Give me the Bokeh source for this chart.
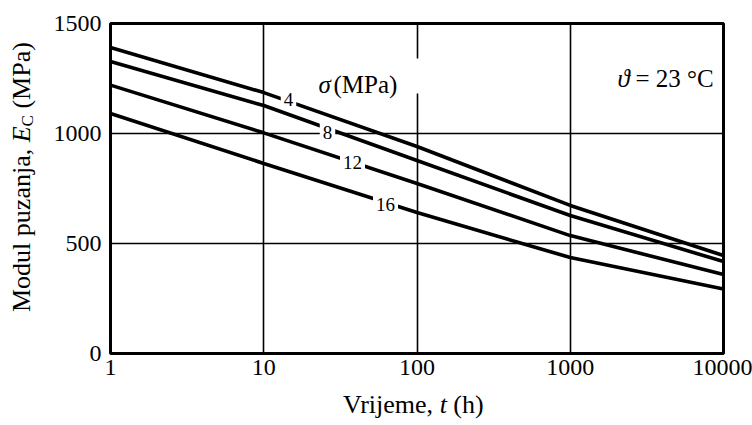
import math
from bokeh.plotting import figure
from bokeh.models import Label, FixedTicker, BoxAnnotation, Div
from bokeh.layouts import row, column
from bokeh.embed import file_html
from bokeh.resources import INLINE

# ---- data ----
t_hours = [1, 10, 100, 1000, 10000]
E_sigma4 = [1391, 1186, 941, 673, 445]
E_sigma8 = [1327, 1127, 877, 627, 418]
E_sigma12 = [1220, 1003, 773, 536, 359]
E_sigma16 = [1091, 864, 641, 436, 293]
stress_labels = ["4", "8", "12", "16"]
x_ticks = [1, 10, 100, 1000, 10000]
x_tick_labels = ["1", "10", "100", "1000", "10000"]
y_ticks = [0, 500, 1000, 1500]
y_tick_labels = ["0", "500", "1000", "1500"]

FONT = "Liberation Serif"
YLAB_W = 40            # width of the y-label strip
XLAB_H = 35            # height of the x-label strip
W, H = 752 - YLAB_W, 425 - XLAB_H
# frame in page pixels
FL, FR, FT, FB = 110, 723, 23, 353
L, R, T, B = FL - YLAB_W, (W + YLAB_W) - FR, FT, H - FB

p = figure(width=W, height=H, x_axis_type="log", x_range=(1, 10000), y_range=(0, 1500),
           output_backend="svg", toolbar_location=None,
           min_border_left=L, min_border_right=R, min_border_top=T, min_border_bottom=B,
           background_fill_color="white", border_fill_color="white")

dec = (FR - FL) / 4.0
ppu = (FB - FT) / 1500.0

def dx(px):
    return 10 ** ((px - FL) / dec)

def dy(py):
    return (FB - py) / ppu

p.outline_line_color = "black"
p.outline_line_width = 3
p.outline_line_alpha = 1

for ax in (p.xaxis[0], p.yaxis[0]):
    ax.axis_line_color = None
    ax.major_tick_line_color = None
    ax.minor_tick_line_color = None
    ax.major_tick_out = 0
    ax.major_tick_in = 0
    ax.minor_tick_out = 0
    ax.major_label_text_font = FONT
    ax.major_label_text_font_size = "24px"
    ax.major_label_text_color = "black"
p.xaxis[0].major_label_standoff = 6
p.yaxis[0].major_label_standoff = 9

p.xaxis[0].ticker = FixedTicker(ticks=x_ticks)
p.xaxis[0].major_label_overrides = {t: s for t, s in zip(x_ticks, x_tick_labels)}
p.yaxis[0].ticker = FixedTicker(ticks=y_ticks)
p.yaxis[0].major_label_overrides = {t: s for t, s in zip(y_ticks, y_tick_labels)}

p.xgrid[0].ticker = FixedTicker(ticks=x_ticks)
p.ygrid[0].ticker = FixedTicker(ticks=y_ticks)
for g in (p.xgrid[0], p.ygrid[0]):
    g.grid_line_color = "black"
    g.grid_line_width = 1.6
    g.grid_line_alpha = 1

# gap in the t=100 gridline near the sigma label
p.add_layout(BoxAnnotation(left=dx(406), right=dx(422), bottom=dy(93), top=dy(58),
                           fill_color="white", fill_alpha=1, line_color=None))

for E in (E_sigma4, E_sigma8, E_sigma12, E_sigma16):
    p.line(t_hours, E, line_color="black", line_width=3.6)

# curve labels
label_pos = [(288, 99), (327, 132), (352, 162), (385, 204)]
for s, (px, py) in zip(stress_labels, label_pos):
    p.add_layout(Label(x=dx(px), y=dy(py), text=s, text_font=FONT, text_font_size="19px",
                       text_color="black", text_align="center", text_baseline="middle",
                       background_fill_color="white", background_fill_alpha=1, padding=3))

def txt(px, py, text, size="24px", style="normal", align="left"):
    p.add_layout(Label(x=dx(px), y=dy(py), text=text, text_font=FONT, text_font_size=size,
                       text_font_style=style, text_align=align, text_baseline="alphabetic",
                       text_color="black"))

# sigma (MPa)
txt(318, 84, "σ", size="25px", style="italic")
txt(333, 84, "(MPa)", size="25px")
# theta = 23 C
txt(617, 78, "ϑ", size="25px", style="italic")
txt(635, 78, "= 23 °C", size="25px")

base_css = ("font-family:'Liberation Serif',serif;font-size:26px;color:black;"
            "white-space:nowrap;")

xlab = Div(width=W, height=XLAB_H, margin=0,
           text=('<div style="%sline-height:30px;padding-left:%dpx;">'
                 'Vrijeme, <i>t</i> (h)</div>') % (base_css, 343 - YLAB_W))

ylab = Div(width=YLAB_W, height=H + XLAB_H, margin=0,
           text=('<div style="%sline-height:30px;width:30px;height:300px;margin-top:27px;'
                 'margin-left:7px;writing-mode:vertical-rl;transform:rotate(180deg);'
                 'text-align:center;">'
                 'Modul puzanja, <i>E</i><sub style="font-size:17px;">C</sub> (MPa)</div>')
                % base_css)

layout = row(ylab, column(p, xlab, spacing=0), spacing=0)

open("out.html", "w").write(file_html(layout, INLINE))
